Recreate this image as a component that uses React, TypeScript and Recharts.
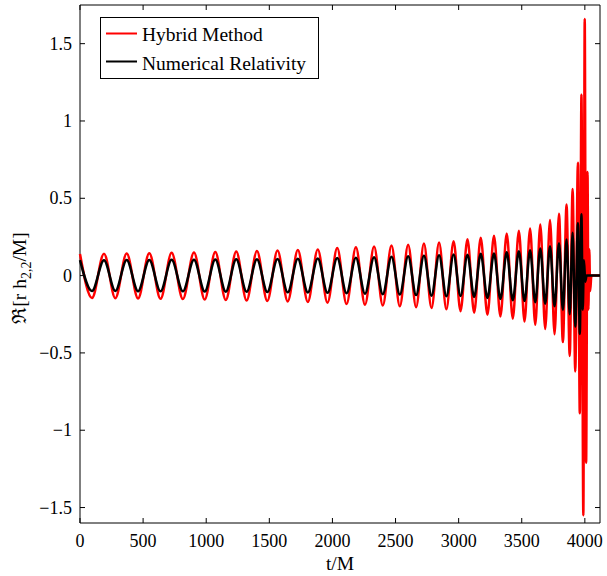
import React from "react";
import { LineChart, Line, XAxis, YAxis, ReferenceArea, Legend } from "recharts";

// extrema of the waveforms (peak / trough)
const EXT_T = [
  0, 95, 190, 280, 370, 460, 549, 638, 726, 815, 903, 988, 1072, 1155, 1238, 1320, 1402, 1484,
  1565, 1646, 1726, 1805, 1884, 1961, 2038, 2112, 2186, 2258, 2330, 2399, 2468, 2534, 2600, 2663,
  2725, 2785, 2845, 2903, 2960, 3015, 3070, 3123, 3175, 3228, 3280, 3331, 3381, 3429, 3477, 3522,
  3566, 3607, 3647, 3686, 3724, 3760, 3795, 3826, 3855, 3880, 3903, 3924, 3945, 3960, 3973,
];
const HYBRID_V = [
  0.14, -0.145, 0.142, -0.146, 0.143, -0.148, 0.145, -0.15, 0.147, -0.152, 0.15, -0.155, 0.153, -0.158,
  0.156, -0.161, 0.159, -0.164, 0.162, -0.167, 0.165, -0.17, 0.169, -0.175, 0.178, -0.184, 0.183, -0.188,
  0.188, -0.193, 0.194, -0.198, 0.2, -0.204, 0.207, -0.21, 0.214, -0.218, 0.222, -0.23, 0.235, -0.24,
  0.245, -0.253, 0.258, -0.264, 0.273, -0.279, 0.29, -0.297, 0.305, -0.318, 0.331, -0.345, 0.36, -0.38,
  0.4, -0.43, 0.46, -0.52, 0.56, -0.62, 0.73, -0.89, 1.17,
];
const NR_V = [
  0.1, -0.1, 0.1, -0.1, 0.101, -0.101, 0.101, -0.102, 0.102, -0.102, 0.103, -0.103, 0.104, -0.104,
  0.105, -0.105, 0.106, -0.106, 0.107, -0.108, 0.109, -0.109, 0.11, -0.111, 0.113, -0.114, 0.116, -0.117,
  0.119, -0.12, 0.122, -0.123, 0.125, -0.126, 0.128, -0.13, 0.132, -0.134, 0.136, -0.132, 0.135, -0.138,
  0.141, -0.145, 0.143, -0.151, 0.151, -0.16, 0.158, -0.165, 0.164, -0.172, 0.175, -0.182, 0.19, -0.198,
  0.21, -0.222, 0.234, -0.25, 0.277, -0.33, 0.338, -0.377, 0.396,
];
// merger / ringdown
const HYBRID_TAIL_T = [3988, 3999, 4010, 4021, 4028, 4035, 4042, 4052, 4120];
const HYBRID_TAIL_V = [-1.55, 1.66, -1.21, 0.67, -0.22, 0.17, -0.1, 0, 0];
const NR_TAIL_T = [3983, 3993, 4003, 4014, 4120];
const NR_TAIL_V = [-0.22, 0.1, -0.04, 0, 0];

const X_TICKS = [0, 500, 1000, 1500, 2000, 2500, 3000, 3500, 4000];
const Y_TICKS = [-1.5, -1, -0.5, 0, 0.5, 1, 1.5];

const hybrid = [...EXT_T.map((t, i) => ({ t, v: HYBRID_V[i] })), ...HYBRID_TAIL_T.map((t, i) => ({ t, v: HYBRID_TAIL_V[i] }))];
const nr = [...EXT_T.map((t, i) => ({ t, v: NR_V[i] })), ...NR_TAIL_T.map((t, i) => ({ t, v: NR_TAIL_V[i] }))];

const FONT = "'Liberation Serif', 'Times New Roman', serif";
const W = 607, H = 576;
const LEFT = 80, TOP = 5, RIGHT = 600, BOTTOM = 523;

const fmt = (v: number) => (v < 0 ? "\u2212" + String(-v) : String(v));

function XTick(props: any) {
  const { x, payload } = props;
  return (
    <g>
      <line x1={x} x2={x} y1={BOTTOM} y2={BOTTOM - 5} stroke="#000" />
      <line x1={x} x2={x} y1={TOP} y2={TOP + 5} stroke="#000" />
      <text x={x} y={547} textAnchor="middle" fontFamily={FONT} fontSize={18} fill="#000">{payload.value}</text>
    </g>
  );
}

function YTick(props: any) {
  const { y, payload } = props;
  return (
    <g>
      <line x1={LEFT} x2={LEFT + 5} y1={y} y2={y} stroke="#000" />
      <line x1={RIGHT} x2={RIGHT - 5} y1={y} y2={y} stroke="#000" />
      <text x={72} y={y + 6} textAnchor="end" fontFamily={FONT} fontSize={18} fill="#000">{fmt(payload.value)}</text>
    </g>
  );
}

function YLabel() {
  return (
    <text x={26} y={278} transform="rotate(-90, 26, 278)" textAnchor="middle" fontFamily={FONT} fontSize={19.5} fill="#000">
      {"\u211C[r h"}
      <tspan dy={5} fontSize={14}>2,2</tspan>
      <tspan dy={-5}>/M]</tspan>
    </text>
  );
}

function XLabel() {
  return (
    <text x={340} y={570} textAnchor="middle" fontFamily={FONT} fontSize={19.5} fill="#000">t/M</text>
  );
}

function LegendBox() {
  return (
    <svg width={220} height={64} style={{ display: "block" }}>
      <rect x={0.5} y={0.5} width={218} height={61} fill="#fff" stroke="#000" />
      <line x1={6} x2={37} y1={16.5} y2={16.5} stroke="#ff0000" strokeWidth={2} />
      <text x={42} y={23.5} fontFamily={FONT} fontSize={19.5} fill="#000">Hybrid Method</text>
      <line x1={6} x2={37} y1={44.5} y2={44.5} stroke="#000" strokeWidth={2} />
      <text x={42} y={52.5} fontFamily={FONT} fontSize={19.5} fill="#000">Numerical Relativity</text>
    </svg>
  );
}

export default function App() {
  return (
    <div style={{ position: "absolute", left: 0, top: 0, background: "#fff" }}>
      <LineChart width={W} height={H} margin={{ top: TOP, right: W - RIGHT, bottom: 0, left: 0 }}>
        <XAxis dataKey="t" type="number" domain={[0, 4120]} ticks={X_TICKS} interval={0}
          tick={<XTick />} tickLine={false} axisLine={false} height={H - BOTTOM} label={<XLabel />} />
        <YAxis type="number" domain={[-1.6, 1.75]} ticks={Y_TICKS} interval={0} allowDataOverflow
          tick={<YTick />} tickLine={false} axisLine={false} width={LEFT} label={<YLabel />} />
        <Line data={hybrid} dataKey="v" type="monotone" stroke="#ff0000" strokeWidth={2.5} dot={false} isAnimationActive={false} />
        <Line data={nr} dataKey="v" type="monotone" stroke="#000000" strokeWidth={2.5} dot={false} isAnimationActive={false} />
        <ReferenceArea x1={0} x2={4120} y1={-1.6} y2={1.75} fill="none" stroke="#000" strokeWidth={1} ifOverflow="visible" />
        <Legend layout="vertical" align="center" verticalAlign="middle" content={<LegendBox />}
          wrapperStyle={{ left: 100, top: 17, width: 220, height: 64 }} />
      </LineChart>
    </div>
  );
}
